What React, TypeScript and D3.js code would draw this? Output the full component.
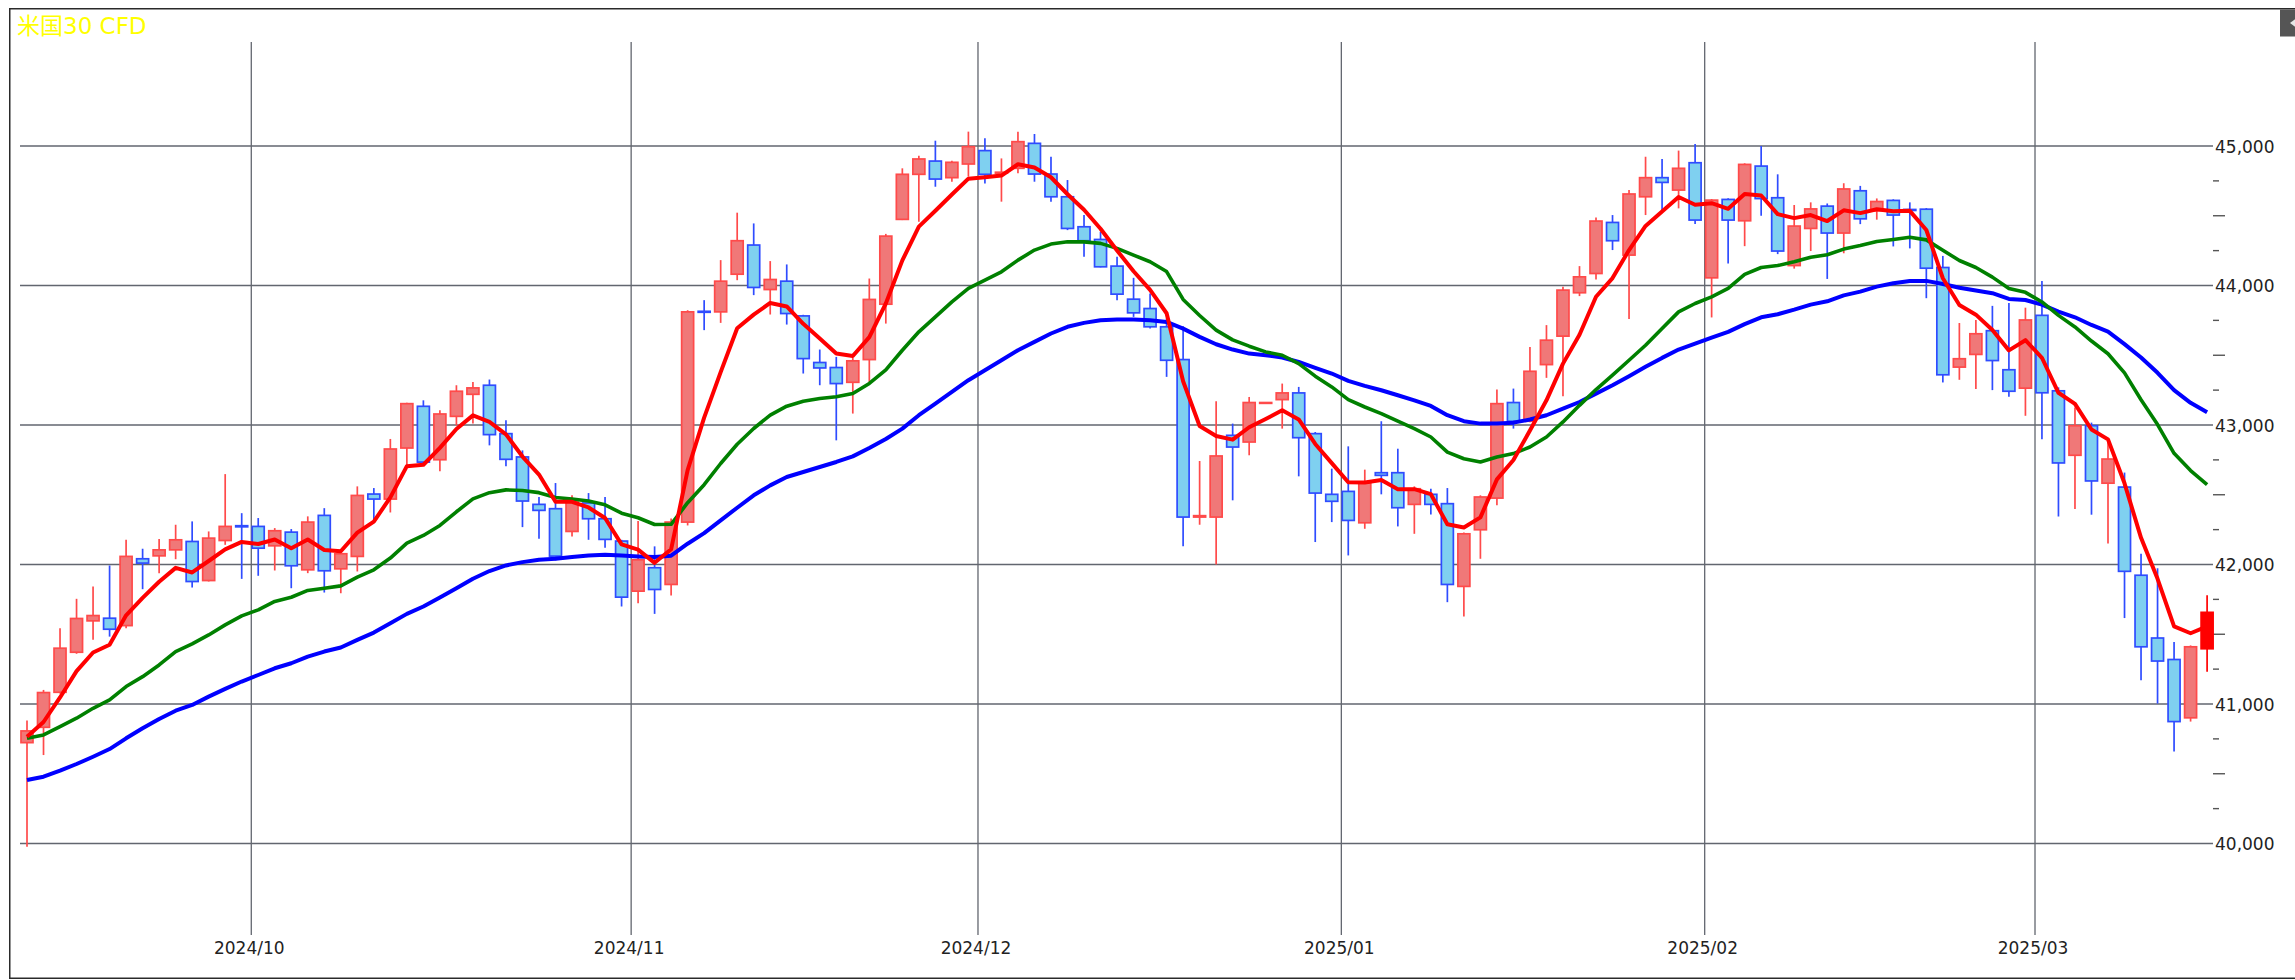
import React from 'react';
import * as d3 from 'd3';

// ---- data (one entry per trading slot, left to right) ----
const opens = [40723,40833,41084,41371,41596,41615,41562,42041,42062,42105,42165,41885,42172,42278,42273,42134,42232,41962,42352,41969,42058,42505,42469,42835,43134,42751,43062,43220,43285,42938,42771,42431,42400,42237,42441,42328,42168,41809,41977,41857,42304,43815,43811,44081,44290,43971,44031,43782,43448,43412,43306,43469,43866,44474,44797,44892,44773,44871,44967,44805,44840,45019,44799,44636,44421,44330,44139,43902,43835,43704,43469,42340,42340,42926,42878,43161,43182,43230,42938,42503,42524,42299,42658,42658,42431,42503,42436,41843,42249,42476,43161,43027,43433,43637,43948,44086,44452,44218,44636,44773,44684,44880,44055,44617,44464,44856,44629,44143,44409,44569,44376,44679,44536,44610,44545,44547,44129,43415,43506,43676,43396,43264,43786,43245,42783,42995,42583,42555,41923,41473,41319,40901,41396];
const highs = [40881,41101,41543,41754,41842,41993,42177,42113,42182,42285,42309,42237,42648,42368,42333,42261,42254,42345,42404,42093,42560,42548,42900,43160,43177,43105,43285,43309,43326,43034,42818,42484,42584,42496,42512,42484,42177,42311,42130,42330,43823,43895,44182,44522,44445,44175,44151,43790,43541,43488,43480,44050,44370,44840,44931,45038,44895,45103,45055,44911,45103,45086,44923,44756,44505,44385,44206,44055,43943,43763,43708,42742,43170,43010,43201,43161,43297,43273,42950,42687,42847,42680,43027,42830,42560,42543,42548,42230,42496,43254,43261,43560,43716,43991,44139,44488,44505,44684,44923,44907,44967,45014,44620,44625,44876,45000,44797,44577,44596,44588,44733,44714,44624,44618,44596,44555,44212,43731,43753,43854,43874,43841,44033,43270,43126,43017,42879,42659,42077,41973,41445,41420,41780];
const lows = [39977,40634,41075,41360,41460,41483,41543,41823,41938,42038,41835,41878,42141,41897,41919,41957,41830,41938,41799,41794,41950,42297,42373,42708,42708,42668,42998,43010,42854,42704,42268,42185,42029,42201,42177,42120,41699,41723,41646,41778,42280,43680,43732,44038,43931,43792,43720,43369,43285,42890,43082,43309,43727,44469,44457,44708,44744,44780,44732,44601,44804,44744,44601,44397,44206,44130,43895,43775,43692,43345,42130,42285,42000,42460,42783,43161,42974,42632,42161,42304,42065,42256,42503,42273,42220,42359,41730,41627,42041,42424,42974,43020,43338,43206,43924,44043,44254,43759,44505,44541,44553,44440,43771,44158,44282,44500,44225,44121,44247,44047,44231,44440,44472,44280,44266,43909,43305,43324,43258,43250,43203,43066,42898,42344,42398,42357,42151,41616,41171,41003,40660,40874,41231];
const closes = [40807,41082,41400,41613,41634,41536,42058,42010,42105,42177,41878,42189,42273,42270,42117,42242,41991,42304,41955,42077,42495,42469,42828,43153,42734,43079,43242,43266,42931,42754,42455,42388,42060,42448,42328,42180,41766,42034,41821,42304,43811,43808,44031,44321,43986,44043,43799,43476,43409,43297,43460,43900,44354,44797,44907,44763,44883,44995,44797,44812,45031,44799,44636,44409,44321,44134,43938,43804,43704,43464,42340,42350,42778,42842,43161,43161,43230,42909,42512,42453,42316,42584,42639,42407,42543,42431,41857,42220,42484,43153,43027,43385,43608,43967,44062,44462,44321,44656,44773,44739,44840,44469,44612,44469,44868,44623,44247,44426,44549,44376,44692,44478,44602,44505,44538,44124,43360,43475,43654,43462,43242,43753,43231,42728,42995,42599,42756,41951,41410,41308,40874,41410,41657];

// short average (red)
const maShort = [40766,40871,41047,41236,41369,41425,41636,41761,41876,41976,41943,42025,42108,42162,42147,42179,42116,42179,42104,42095,42228,42308,42481,42705,42715,42836,42971,43069,43023,42933,42774,42645,42450,42449,42409,42333,42144,42107,42012,42109,42676,43053,43379,43693,43791,43875,43850,43725,43620,43512,43495,43630,43871,44180,44422,44536,44652,44766,44776,44788,44869,44846,44776,44654,44543,44407,44251,44102,43969,43801,43314,42993,42921,42895,42984,43043,43105,43040,42864,42727,42590,42588,42605,42539,42540,42504,42288,42265,42338,42610,42749,42961,43177,43440,43647,43919,44053,44254,44427,44531,44634,44579,44590,44550,44656,44645,44512,44483,44505,44462,44539,44519,44547,44533,44535,44398,44052,43860,43791,43681,43535,43608,43482,43231,43152,42968,42897,42582,42191,41897,41556,41507,41557];
// middle average (green)
const maMid = [40754,40778,40838,40898,40969,41029,41125,41196,41280,41376,41431,41495,41567,41632,41675,41735,41765,41814,41830,41847,41909,41962,42046,42153,42208,42280,42378,42470,42515,42535,42530,42515,42480,42470,42455,42428,42368,42335,42287,42288,42443,42572,42724,42862,42975,43071,43135,43170,43190,43202,43226,43298,43395,43536,43668,43775,43883,43979,44038,44098,44182,44254,44297,44313,44313,44302,44266,44218,44170,44100,43900,43785,43680,43610,43565,43524,43500,43440,43350,43273,43182,43129,43082,43027,42974,42914,42806,42758,42735,42771,42795,42842,42914,43022,43141,43254,43357,43464,43572,43692,43811,43871,43919,43979,44080,44129,44143,44170,44203,44220,44261,44286,44316,44330,44346,44327,44253,44179,44129,44060,43978,43951,43882,43786,43703,43602,43511,43374,43181,43003,42797,42673,42572];
// long average (blue)
const maLong = [40455,40479,40522,40570,40622,40677,40754,40826,40893,40952,40993,41053,41108,41161,41208,41256,41292,41340,41376,41405,41460,41512,41579,41646,41699,41763,41830,41898,41953,41993,42017,42034,42041,42053,42065,42070,42065,42058,42053,42063,42149,42225,42316,42407,42496,42567,42627,42663,42699,42735,42775,42835,42900,42974,43070,43153,43237,43321,43393,43464,43536,43596,43656,43704,43732,43751,43756,43756,43751,43739,43691,43632,43579,43541,43512,43500,43484,43452,43410,43369,43316,43280,43249,43213,43177,43137,43070,43027,43010,43010,43017,43039,43070,43117,43165,43225,43285,43350,43417,43481,43541,43584,43627,43668,43723,43772,43794,43827,43863,43887,43929,43956,43992,44016,44033,44033,44011,43984,43964,43945,43904,43896,43863,43813,43772,43717,43670,43580,43484,43374,43250,43159,43091];

const monthLabels = ['2024/10', '2024/11', '2024/12', '2025/01', '2025/02', '2025/03'];
const monthStartIndex = [14, 37, 58, 80, 102, 122];
const yTicks = [40000, 41000, 42000, 43000, 44000, 45000];
const title = '米国30 CFD';

const W = 2295;
const H = 980;
const plotLeft = 20;
const plotRight = 2213;
const plotTop = 42;
const plotBottom = 935;

const UP_FILL = '#f07878';
const UP_STROKE = '#ff4a4a';
const DN_FILL = '#7fd0f0';
const DN_STROKE = '#2f4cff';
const GRID = '#62666f';

export default function App() {
  const n = closes.length;
  const x = d3.scaleLinear().domain([0, n - 1]).range([27, 2207.1]);
  const y = d3.scaleLinear().domain([40000, 45000]).range([843.5, 146]);
  const bodyW = 12;

  const line = d3
    .line<number>()
    .x((_, i) => x(i))
    .y((d) => y(d))
    .curve(d3.curveLinear);

  const minorTicks = d3.range(40000, 45001, 250).filter((v) => v % 1000 !== 0);

  const font = '"DejaVu Sans", "Noto Sans CJK JP", sans-serif';

  return (
    <div style={{ position: 'absolute', left: 0, top: 0, width: W, height: H, overflow: 'hidden', background: '#fff' }}>
      <svg width={W} height={H} style={{ display: 'block' }}>
        <rect x={0} y={0} width={W} height={H} fill="#fff" />
        {/* frame */}
        <rect x={9.75} y={8.75} width={W + 10} height={969.5} fill="#fff" stroke="#2a2a2a" strokeWidth={1.5} />
        {/* top-right button */}
        <rect x={2280} y={9.5} width={16} height={27} fill="#555" />
        <polygon points="2290,23 2296,18.5 2296,27.5" fill="#e6e6e6" />

        {/* title */}
        <text x={17} y={34} fontSize={23} fill="#ffff00" fontFamily={font}>
          {title}
        </text>

        {/* horizontal grid */}
        {yTicks.map((v) => (
          <line key={'h' + v} x1={plotLeft} x2={plotRight} y1={y(v)} y2={y(v)} stroke={GRID} strokeWidth={1.3} />
        ))}
        {/* vertical grid (month boundaries) */}
        {monthStartIndex.map((mi, k) => (
          <line
            key={'v' + k}
            x1={x(mi - 0.42)}
            x2={x(mi - 0.42)}
            y1={plotTop}
            y2={plotBottom}
            stroke={GRID}
            strokeWidth={1.3}
          />
        ))}

        {/* minor ticks on right axis */}
        {minorTicks.map((v) => (
          <line
            key={'m' + v}
            x1={plotRight}
            x2={plotRight + (v % 500 === 0 ? 12 : 6)}
            y1={y(v)}
            y2={y(v)}
            stroke="#555"
            strokeWidth={1.4}
          />
        ))}

        {/* y labels */}
        {yTicks.map((v) => (
          <text key={'yl' + v} x={plotRight + 2} y={y(v) + 6.5} fontSize={17} fill="#222" fontFamily={font}>
            {d3.format(',')(v)}
          </text>
        ))}

        {/* x labels */}
        {monthStartIndex.map((mi, k) => (
          <text
            key={'xl' + k}
            x={x(mi - 0.42) - 2}
            y={954}
            fontSize={17}
            fill="#222"
            textAnchor="middle"
            fontFamily={font}
          >
            {monthLabels[k]}
          </text>
        ))}

        {/* candles */}
        {closes.map((c, i) => {
          const o = opens[i];
          const up = c >= o;
          const last = i === n - 1;
          const stroke = last ? '#ff0000' : up ? UP_STROKE : DN_STROKE;
          const fill = last ? '#ff0000' : up ? UP_FILL : DN_FILL;
          const cx = x(i);
          const top = y(Math.max(o, c));
          const bot = y(Math.min(o, c));
          return (
            <g key={'c' + i}>
              <line x1={cx} x2={cx} y1={y(highs[i])} y2={y(lows[i])} stroke={stroke} strokeWidth={1.7} />
              <rect
                x={cx - bodyW / 2}
                y={top}
                width={bodyW}
                height={Math.max(bot - top, 0.8)}
                fill={fill}
                stroke={stroke}
                strokeWidth={1.7}
              />
            </g>
          );
        })}

        {/* moving averages */}
        <path d={line(maLong) || ''} fill="none" stroke="#0000ff" strokeWidth={4} strokeLinejoin="round" />
        <path d={line(maMid) || ''} fill="none" stroke="#008000" strokeWidth={3.6} strokeLinejoin="round" />
        <path d={line(maShort) || ''} fill="none" stroke="#ff0000" strokeWidth={4} strokeLinejoin="round" />
      </svg>
    </div>
  );
}
